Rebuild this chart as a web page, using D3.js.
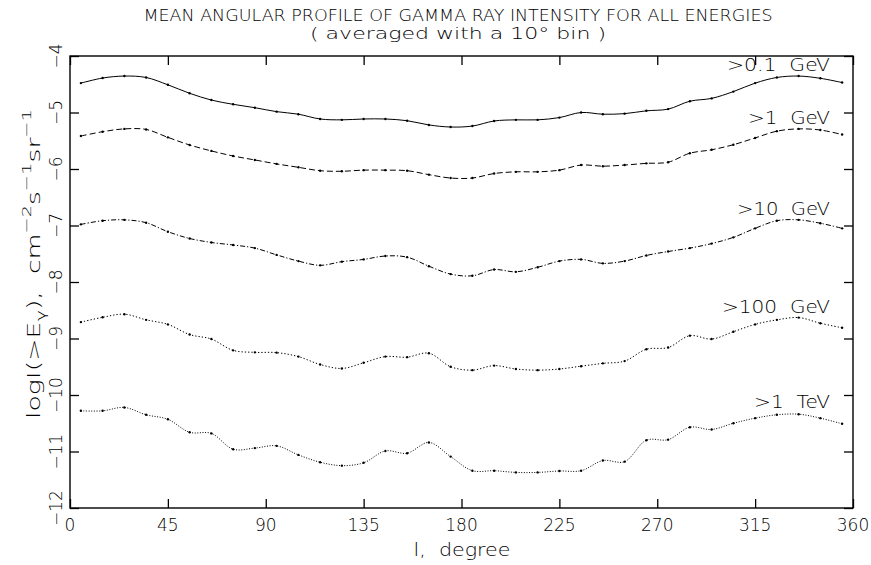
<!DOCTYPE html>
<html>
<head>
<meta charset="utf-8">
<script src="https://cdn.jsdelivr.net/npm/d3@7"></script>
<style>
  body { margin: 0; background: #fff; }
  svg text { font-family: "DejaVu Sans", sans-serif; font-weight: 200; fill: #000; }
</style>
</head>
<body>
<svg width="871" height="565"></svg>
<script>
// bin centres, degrees of galactic longitude
var degrees = [5, 15, 25, 35, 45, 55, 65, 75, 85, 95, 105, 115, 125, 135, 145, 155, 165, 175,
               185, 195, 205, 215, 225, 235, 245, 255, 265, 275, 285, 295, 305, 315, 325, 335, 345, 355];

// log intensity, one array per energy threshold
var above01GeV = [-4.48, -4.39, -4.355, -4.38, -4.51, -4.66, -4.78, -4.855, -4.915, -4.985, -5.03, -5.115,
                  -5.13, -5.115, -5.115, -5.145, -5.22, -5.257, -5.24, -5.15, -5.13, -5.13, -5.09, -5.0,
                  -5.03, -5.02, -4.97, -4.94, -4.80, -4.75, -4.63, -4.48, -4.38, -4.355, -4.395, -4.47];
var above1GeV = [-5.416, -5.34, -5.29, -5.30, -5.44, -5.575, -5.68, -5.77, -5.84, -5.91, -5.97, -6.03,
                 -6.04, -6.02, -6.02, -6.03, -6.10, -6.16, -6.16, -6.08, -6.05, -6.05, -6.02, -5.93,
                 -5.95, -5.93, -5.90, -5.88, -5.72, -5.66, -5.57, -5.45, -5.33, -5.29, -5.31, -5.39];
var above10GeV = [-6.98, -6.915, -6.90, -6.95, -7.11, -7.23, -7.30, -7.345, -7.40, -7.52, -7.63, -7.705,
                  -7.64, -7.60, -7.54, -7.56, -7.72, -7.86, -7.89, -7.78, -7.82, -7.74, -7.63, -7.60,
                  -7.67, -7.63, -7.53, -7.46, -7.40, -7.32, -7.21, -7.05, -6.915, -6.90, -6.96, -7.05];
var above100GeV = [-8.71, -8.625, -8.57, -8.67, -8.75, -8.93, -9.01, -9.21, -9.245, -9.25, -9.32, -9.46,
                   -9.53, -9.43, -9.32, -9.33, -9.26, -9.50, -9.56, -9.48, -9.54, -9.56, -9.54, -9.49,
                   -9.44, -9.40, -9.19, -9.16, -8.95, -9.01, -8.88, -8.75, -8.67, -8.63, -8.73, -8.81];
var above1TeV = [-10.28, -10.28, -10.22, -10.35, -10.43, -10.66, -10.68, -10.96, -10.94, -10.90, -11.06, -11.19,
                 -11.25, -11.20, -10.99, -11.03, -10.84, -11.09, -11.34, -11.34, -11.37, -11.37, -11.345, -11.34,
                 -11.16, -11.18, -10.80, -10.79, -10.57, -10.61, -10.50, -10.41, -10.35, -10.34, -10.41, -10.51];

var seriesNames = [">0.1  GeV", ">1  GeV", ">10  GeV", ">100  GeV", ">1  TeV"];
var seriesValues = [above01GeV, above1GeV, above10GeV, above100GeV, above1TeV];

var xTicks = [0, 45, 90, 135, 180, 225, 270, 315, 360];
var yTicks = [-12, -11, -10, -9, -8, -7, -6, -5, -4];

// plot box (note: "top" is taken by window.top, so prefix them)
var boxLeft = 70, boxRight = 853, boxTop = 56, boxBottom = 508;

var svg = d3.select("svg");

var x = d3.scaleLinear().domain([0, 360]).range([boxLeft, boxRight]);
var y = d3.scaleLinear().domain([-12, -4]).range([boxBottom, boxTop]);

// line style per curve: solid, dashed, dash-dot, dotted, fine dotted
var dashes = [null, "6,3", "5,2,1.2,2", "1.3,2", "1,1.6"];
// where each label sits (right end, baseline)
var labelY = [71, 124, 215, 313, 408];
var labelW = [103, 82, 93, 108, 76];

// frame
svg.append("rect")
    .attr("x", boxLeft).attr("y", boxTop)
    .attr("width", boxRight - boxLeft).attr("height", boxBottom - boxTop)
    .attr("fill", "none").attr("stroke", "#000").attr("stroke-width", 1.4);

// ticks pointing inwards on all four sides
var tk = 9;
svg.append("g").attr("transform", "translate(0," + boxBottom + ")")
    .call(d3.axisBottom(x).tickValues(xTicks).tickSize(-tk).tickFormat(""))
    .call(g => g.select(".domain").remove());
svg.append("g").attr("transform", "translate(0," + boxTop + ")")
    .call(d3.axisTop(x).tickValues(xTicks).tickSize(-tk).tickFormat(""))
    .call(g => g.select(".domain").remove());
svg.append("g").attr("transform", "translate(" + boxLeft + ",0)")
    .call(d3.axisLeft(y).tickValues(yTicks).tickSize(-tk).tickFormat(""))
    .call(g => g.select(".domain").remove());
svg.append("g").attr("transform", "translate(" + boxRight + ",0)")
    .call(d3.axisRight(y).tickValues(yTicks).tickSize(-tk).tickFormat(""))
    .call(g => g.select(".domain").remove());
svg.selectAll(".tick line").attr("stroke", "#000").attr("stroke-width", 1.3);

// tick labels
svg.selectAll(".xlab").data(xTicks).enter().append("text")
    .attr("x", d => x(d)).attr("y", 531)
    .attr("text-anchor", "middle").attr("font-size", 17)
    .text(d => d);
svg.selectAll(".ylab").data(yTicks).enter().append("text")
    .attr("transform", d => "translate(62," + y(d) + ") rotate(-90)")
    .attr("text-anchor", "middle").attr("font-size", 17)
    .text(d => "\u2212" + Math.abs(d));

// axis titles
svg.append("text").attr("x", 462).attr("y", 556)
    .attr("text-anchor", "middle").attr("font-size", 17)
    .attr("textLength", 97).attr("lengthAdjust", "spacingAndGlyphs")
    .style("white-space", "pre")
    .text("l,  degree");

var ylab = svg.append("text")
    .attr("transform", "translate(40,264) rotate(-90)")
    .attr("text-anchor", "middle").attr("font-size", 18)
    .attr("textLength", 310).attr("lengthAdjust", "spacingAndGlyphs")
    .style("white-space", "pre");
ylab.append("tspan").text("logI(>E");
ylab.append("tspan").attr("font-size", 13).attr("dy", 5).text("\u03b3");
ylab.append("tspan").attr("dy", -5).text("),  cm");
ylab.append("tspan").attr("font-size", 13).attr("dy", -9).text("\u22122");
ylab.append("tspan").attr("dy", 9).text("s");
ylab.append("tspan").attr("font-size", 13).attr("dy", -9).text("\u22121");
ylab.append("tspan").attr("dy", 9).text("sr");
ylab.append("tspan").attr("font-size", 13).attr("dy", -9).text("\u22121");

// title
svg.append("text").attr("x", 458).attr("y", 21)
    .attr("text-anchor", "middle").attr("font-size", 16)
    .attr("textLength", 629).attr("lengthAdjust", "spacingAndGlyphs")
    .text("MEAN ANGULAR PROFILE OF GAMMA RAY INTENSITY FOR ALL ENERGIES");
svg.append("text").attr("x", 458).attr("y", 39)
    .attr("text-anchor", "middle").attr("font-size", 16)
    .attr("textLength", 296).attr("lengthAdjust", "spacingAndGlyphs")
    .text("( averaged with a 10\u00b0 bin )");

// curves
var line = d3.line()
    .x(d => x(d.deg))
    .y(d => y(d.v))
    .curve(d3.curveCatmullRom.alpha(0.5));

seriesValues.forEach(function (vals, i) {
    var pts = degrees.map(function (d, j) { return { deg: d, v: vals[j] }; });
    svg.append("path")
        .datum(pts)
        .attr("d", line)
        .attr("fill", "none")
        .attr("stroke", "#000")
        .attr("stroke-width", 1)
        .attr("stroke-dasharray", dashes[i]);
    svg.append("g").selectAll("circle")
        .data(pts).enter().append("circle")
        .attr("cx", d => x(d.deg))
        .attr("cy", d => y(d.v))
        .attr("r", 1.2)
        .attr("fill", "#000");
    svg.append("text")
        .attr("x", 830).attr("y", labelY[i])
        .attr("text-anchor", "end").attr("font-size", 17)
        .attr("textLength", labelW[i]).attr("lengthAdjust", "spacingAndGlyphs")
        .style("white-space", "pre")
        .text(seriesNames[i]);
});
</script>
</body>
</html>
